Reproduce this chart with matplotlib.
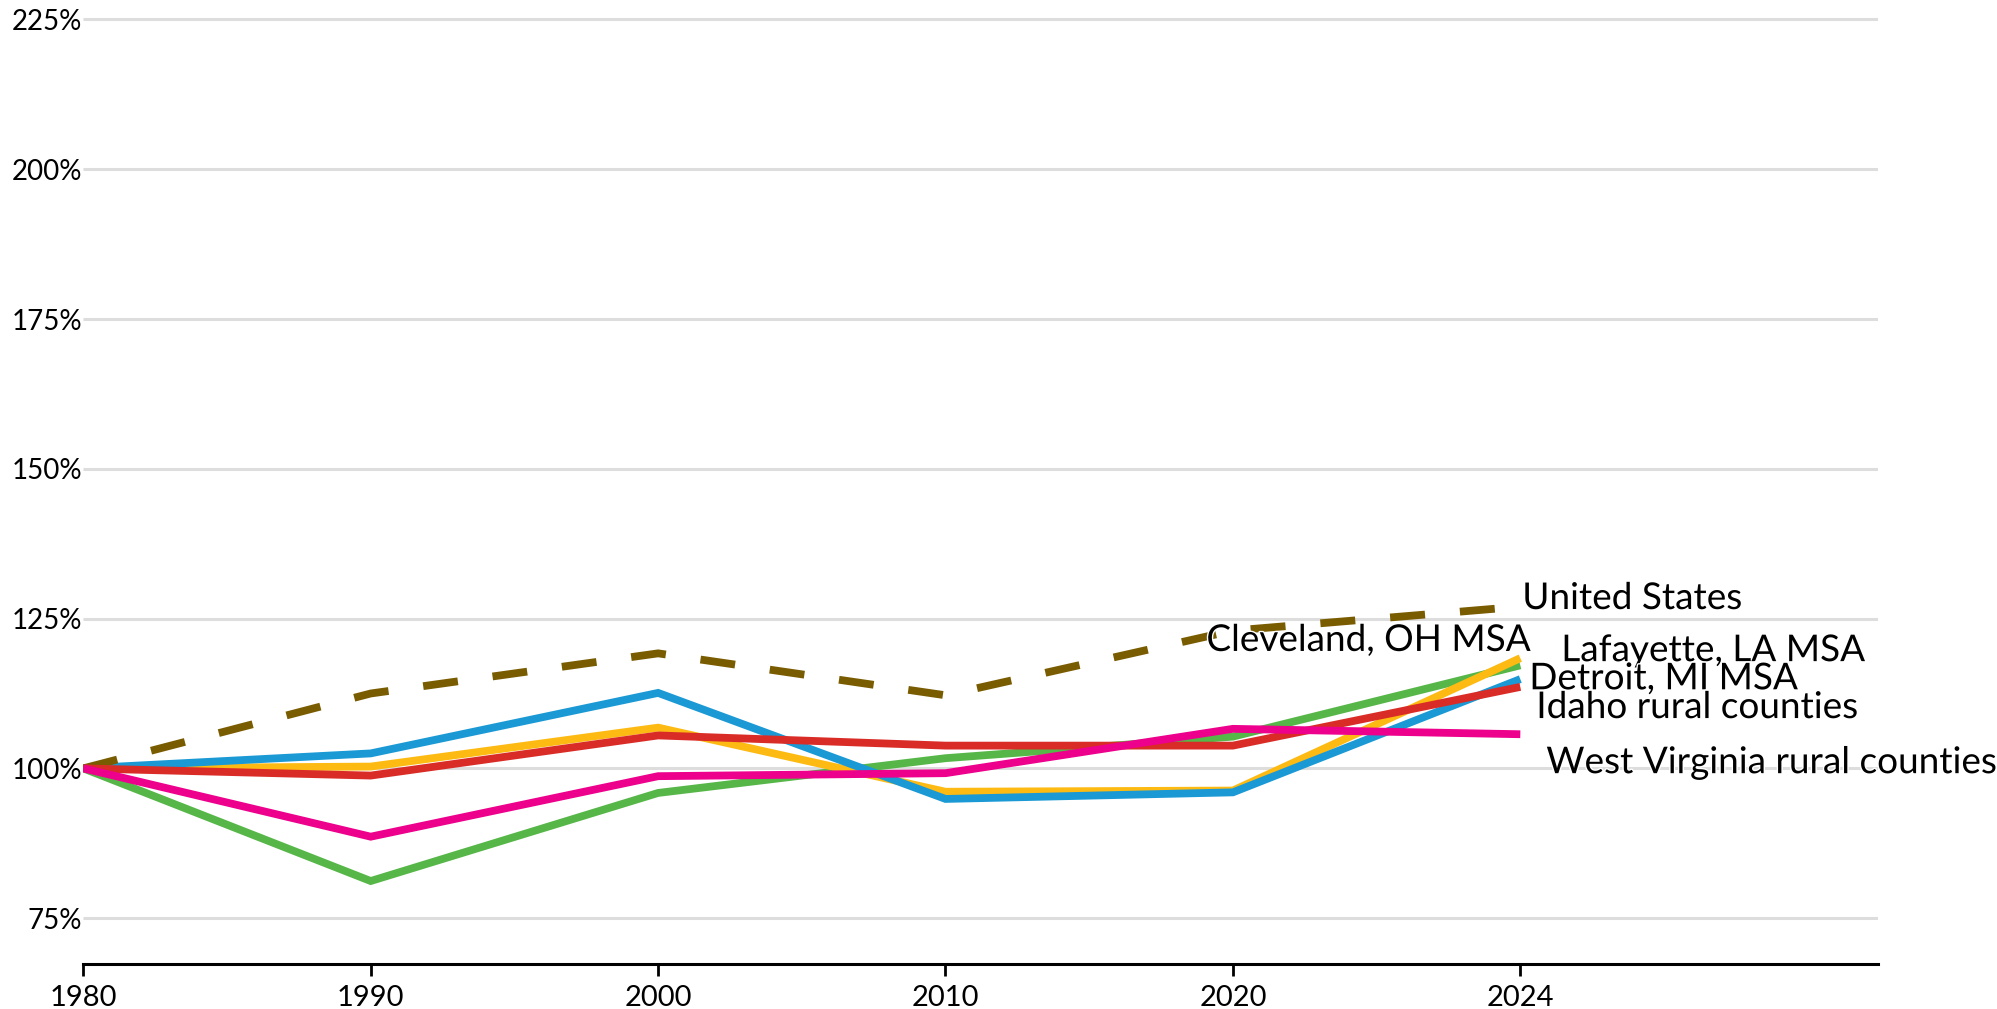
import matplotlib
matplotlib.use("Agg")
import matplotlib.pyplot as plt
import matplotlib.patheffects as pe

plt.rcParams['font.family'] = ['Lato', 'DejaVu Sans']

years = ["1980", "1990", "2000", "2010", "2020", "2024"]
united_states = [100, 112.5, 119.2, 112.2, 123.0, 127.0]
cleveland = [100, 100.3, 106.8, 96.1, 96.3, 118.4]
detroit = [100, 102.5, 112.6, 94.9, 96.0, 114.9]
idaho = [100, 98.8, 105.5, 103.8, 103.8, 113.6]
west_virginia = [100, 81.2, 95.9, 101.7, 105.3, 117.2]
lafayette = [100, 88.6, 98.7, 99.2, 106.6, 105.7]
y_ticks = [75, 100, 125, 150, 175, 200, 225]
y_tick_labels = ["75%", "100%", "125%", "150%", "175%", "200%", "225%"]

W, H = 1997, 1009
fig = plt.figure(figsize=(W / 100, H / 100), dpi=100)
left_px, right_px, bottom_px = 83.3, 1878, 964.3
ax = fig.add_axes([left_px / W, (H - bottom_px) / H, (right_px - left_px) / W, bottom_px / H])
x = list(range(len(years)))
ax.set_xlim(0, (right_px - left_px) / 287.4)
ax.set_ylim(67.3, 228.25)

for t in y_ticks:
    ax.axhline(t, color="#dddddd", lw=2.2, zorder=0, solid_capstyle="butt")

lw = 5.6
series = [
    ("West Virginia rural counties", west_virginia, "#56b748", "-"),
    ("Cleveland, OH MSA", cleveland, "#fdba12", "-"),
    ("Detroit, MI MSA", detroit, "#1a99d5", "-"),
    ("United States", united_states, "#7a5c00", "--"),
    ("Idaho rural counties", idaho, "#da2c27", "-"),
    ("Lafayette, LA MSA", lafayette, "#ec008c", "-"),
]
for i, (name, vals, col, ls) in enumerate(series):
    line, = ax.plot(x, vals, color=col, lw=lw, ls=ls, zorder=2 + i,
                    solid_joinstyle="miter", solid_capstyle="butt",
                    dash_capstyle="butt", dash_joinstyle="miter")
    if ls == "--":
        line.set_dashes((4.5, 4.5))

# end labels (baseline y in data units, x offset in pixels from the 2024 point)
label_layout = {
    "United States": (126.6, 2, "left"),
    "Cleveland, OH MSA": (119.6, 10, "right"),
    "Lafayette, LA MSA": (117.9, 41, "left"),
    "Detroit, MI MSA": (113.2, 9, "left"),
    "Idaho rural counties": (108.4, 16, "left"),
    "West Virginia rural counties": (99.2, 26, "left"),
}
for name, (yv, dx, ha) in label_layout.items():
    ax.annotate(name, xy=(x[-1], yv), xytext=(dx, 0), textcoords="offset pixels",
                ha=ha, va="baseline", fontsize=26.6, color="#000000", zorder=20,
                annotation_clip=False,
                path_effects=[pe.withStroke(linewidth=2, foreground="white")])

ax.set_xticks(x)
ax.set_xticklabels(years)
ax.set_yticks(y_ticks)
ax.set_yticklabels(y_tick_labels)
ax.tick_params(axis="x", length=8.6, width=2, pad=6, labelsize=21, colors="#000000")
ax.tick_params(axis="y", length=0, pad=1, labelsize=20, colors="#000000")
for s in ["top", "right", "left"]:
    ax.spines[s].set_visible(False)
ax.spines["bottom"].set_linewidth(2.2)
ax.spines["bottom"].set_color("#000000")
ax.patch.set_alpha(0)

fig.savefig("out.png", dpi=100)
